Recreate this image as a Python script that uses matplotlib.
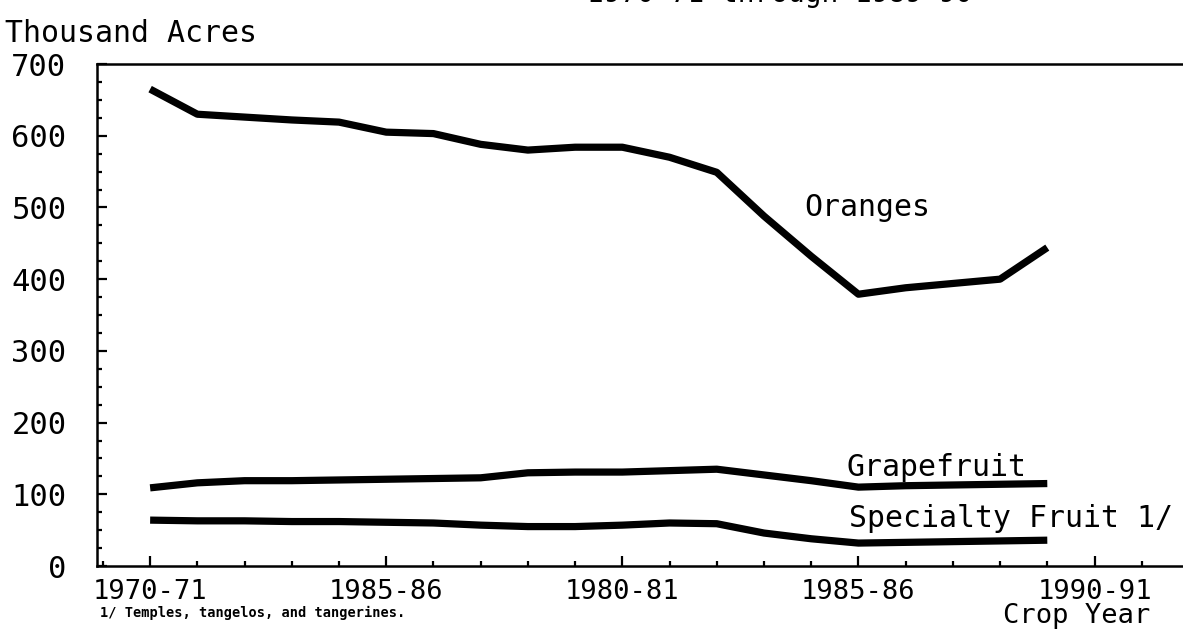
import numpy as np
import matplotlib
matplotlib.use("Agg")
import matplotlib.pyplot as plt
from matplotlib.ticker import MultipleLocator, FixedLocator

# --- Data (thousand acres, crop years 1970-71 .. 1989-90) ---
years = list(range(1970, 1990))
oranges = [665, 630, 626, 622, 619, 605, 603, 588, 580, 584,
           584, 570, 549, 488, 432, 379, 388, 394, 400, 444]
grapefruit = [109, 116, 119, 119, 120, 121, 122, 123, 130, 131,
              131, 133, 135, 127, 119, 110, 112, 113, 114, 115]
specialty = [64, 63, 63, 62, 62, 61, 60, 57, 55, 55,
             57, 60, 59, 46, 38, 32, 33, 34, 35, 36]

major_years = [1970, 1975, 1980, 1985, 1990]
major_labels = ["1970-71", "1985-86", "1980-81", "1985-86", "1990-91"]
y_ticks = [0, 100, 200, 300, 400, 500, 600, 700]

FONT = "DejaVu Sans Mono"

fig = plt.figure(figsize=(11.83, 6.32), dpi=100)
ax = fig.add_axes([0.082, 0.1044, 0.935, 0.7943])

for vals in (oranges, grapefruit, specialty):
    ax.plot(years, vals, color="black", lw=5.2, solid_capstyle="butt",
            solid_joinstyle="round")

ax.set_xlim(1968.875, 1992.3)
ax.set_ylim(0, 700)

ax.xaxis.set_major_locator(FixedLocator(major_years))
ax.xaxis.set_minor_locator(MultipleLocator(1))
ax.set_xticklabels(major_labels, fontfamily=FONT, fontsize=19.5)
ax.yaxis.set_major_locator(FixedLocator(y_ticks))
ax.yaxis.set_minor_locator(MultipleLocator(25))
ax.set_yticklabels([str(v) for v in y_ticks], fontfamily=FONT, fontsize=22)

ax.tick_params(which="major", direction="in", length=7, width=1.6)
ax.tick_params(which="minor", direction="in", length=3.8, width=1.6)
ax.tick_params(axis="y", which="major", pad=22)
ax.tick_params(axis="x", which="major", pad=9)

for side in ("left", "bottom", "top"):
    ax.spines[side].set_linewidth(1.8)
ax.spines["right"].set_visible(False)

# series labels
ax.text(1983.85, 500, "Oranges", fontfamily=FONT, fontsize=21.5,
        ha="left", va="center")
ax.text(1984.75, 137, "Grapefruit", fontfamily=FONT, fontsize=21.5,
        ha="left", va="center")
ax.text(1984.8, 66, "Specialty Fruit 1/", fontfamily=FONT, fontsize=21.5,
        ha="left", va="center")

# axis titles and notes
fig.text(5 / 1183, 1 - 34 / 632, "Thousand Acres", fontfamily=FONT,
         fontsize=21.5, ha="left", va="center")
fig.text(1150 / 1183, 1 - 616 / 632, "Crop Year", fontfamily=FONT,
         fontsize=19.5, ha="right", va="center")
fig.text(100 / 1183, 1 - 613 / 632, "1/ Temples, tangelos, and tangerines.",
         fontfamily=FONT, fontsize=9.8, fontweight="bold",
         ha="left", va="center")
# title, mostly cut off at the top of the page
fig.text(780 / 1183, 1.009, "1970-71 through 1989-90", fontfamily=FONT,
         fontsize=20, ha="center", va="center")

plt.savefig("out.png", dpi=100)
